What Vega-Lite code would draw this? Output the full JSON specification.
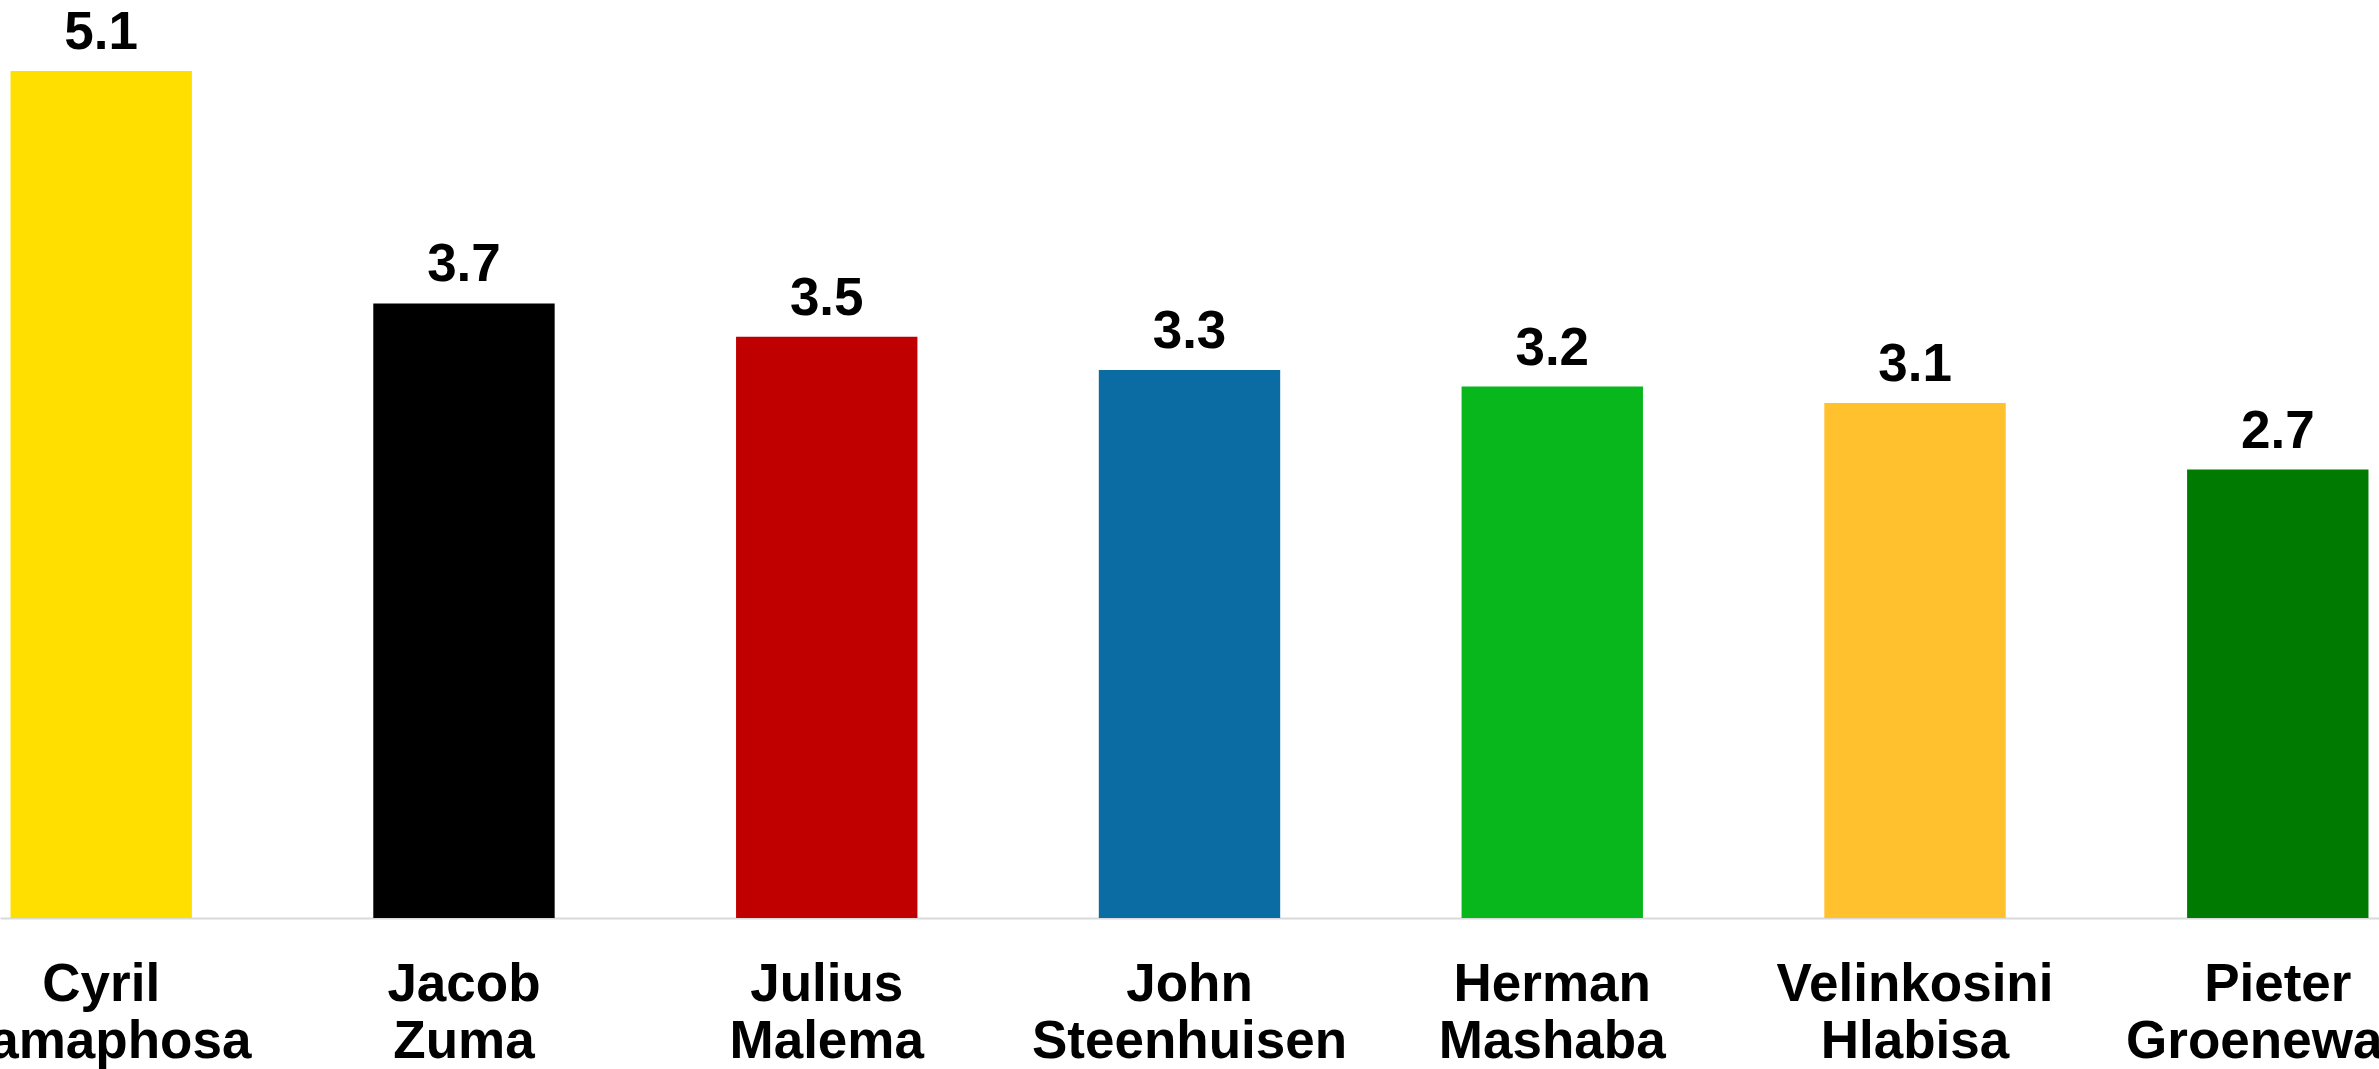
{
  "$schema": "https://vega.github.io/schema/vega-lite/v6.json",
  "width": 2379,
  "height": 918,
  "autosize": {"type": "none"},
  "padding": {"left": 0, "top": 0, "right": 0, "bottom": 151},
  "background": "white",
  "config": {"view": {"stroke": null}},
  "data": {
    "values": [
      {"name": "Cyril Ramaphosa", "value": 5.1, "color": "#FEDF00"},
      {"name": "Jacob Zuma", "value": 3.7, "color": "#000000"},
      {"name": "Julius Malema", "value": 3.5, "color": "#C00000"},
      {"name": "John Steenhuisen", "value": 3.3, "color": "#0B6BA3"},
      {"name": "Herman Mashaba", "value": 3.2, "color": "#07B71C"},
      {"name": "Velinkosini Hlabisa", "value": 3.1, "color": "#FFC12E"},
      {"name": "Pieter Groenewald", "value": 2.7, "color": "#007A00"}
    ]
  },
  "encoding": {
    "x": {
      "field": "name",
      "type": "nominal",
      "sort": null,
      "scale": {"paddingInner": 0.5, "paddingOuter": 0.029},
      "axis": {
        "title": null,
        "domainColor": "#D9D9D9",
        "domainWidth": 2,
        "ticks": false,
        "grid": false,
        "labelAngle": 0,
        "labelFont": "Liberation Sans",
        "labelFontSize": 53,
        "labelFontWeight": "bold",
        "labelColor": "#000000",
        "labelPadding": 40,
        "labelLineHeight": 57,
        "labelLimit": 2000,
        "labelOverlap": false,
        "labelBound": false,
        "labelFlush": false,
        "labelBaseline": "top",
        "labelExpr": "split(datum.label, ' ')"
      }
    },
    "y": {
      "field": "value",
      "type": "quantitative",
      "scale": {"domain": [0, 5.527], "nice": false, "zero": true},
      "axis": null
    }
  },
  "layer": [
    {
      "mark": {"type": "bar"},
      "encoding": {"color": {"field": "color", "type": "nominal", "scale": null, "legend": null}}
    },
    {
      "mark": {
        "type": "text",
        "font": "Liberation Sans",
        "fontSize": 53,
        "fontWeight": "bold",
        "color": "#000000",
        "baseline": "alphabetic",
        "dy": -22
      },
      "encoding": {"text": {"field": "value", "type": "quantitative", "format": ".1f"}}
    }
  ]
}
